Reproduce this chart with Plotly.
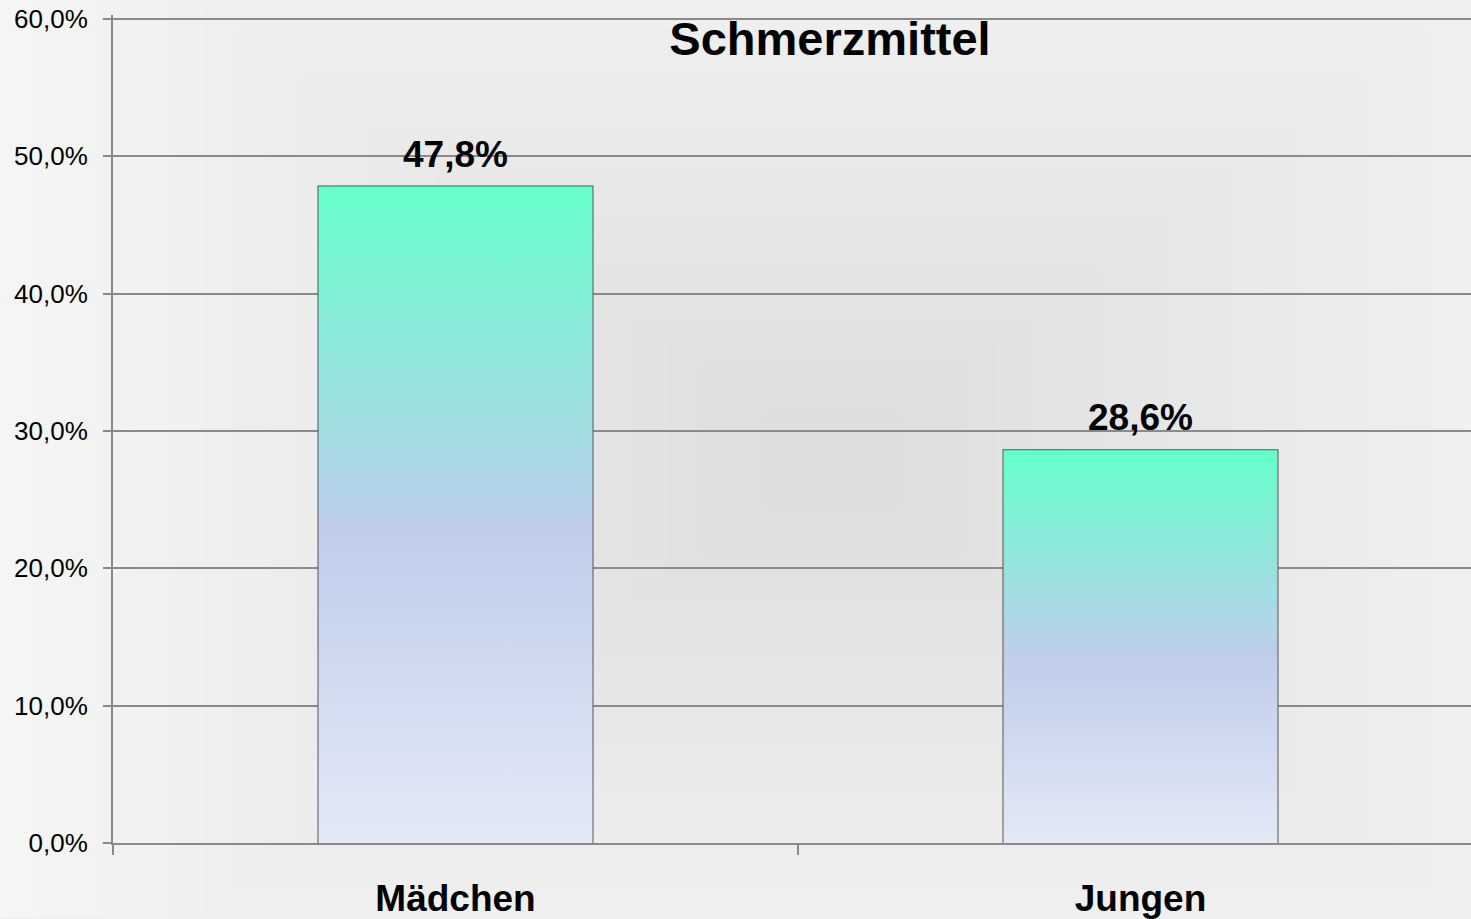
import base64
import struct
import zlib

import numpy as np
import plotly.graph_objects as go

# ---------------- data ----------------
categories = ["Mädchen", "Jungen"]
values = [47.8, 28.6]
y_tick_values = [0, 10, 20, 30, 40, 50, 60]
chart_title = "Schmerzmittel"

# ---------------- style ----------------
W, H = 1471, 919
FONT = "Liberation Sans, Arial, sans-serif"
GRID = "#8A8A8A"
BAR_LINE = "#555555"
BAR_WIDTH = 0.4
bar_scale = [
    [0.0, "#E3E9F6"],
    [0.48, "#BFCDEB"],
    [0.58, "#ACD8E6"],
    [1.0, "#66FFCC"],
]


def background_png(w, h):
    """Soft rectangular 'path' gradient: darker centre, lighter edges."""
    yy, xx = np.mgrid[0:h, 0:w]
    cx, cy = 832, 460
    d = np.maximum(np.abs(xx - cx) / 830.0, np.abs(yy - cy) / 600.0)
    d = np.clip(d, 0, 1)
    val = (221 + 25 * d).astype(np.uint8)
    raw = b"".join(b"\x00" + val[r].tobytes() for r in range(h))

    def chunk(t, data):
        c = struct.pack(">I", len(data)) + t + data
        return c + struct.pack(">I", zlib.crc32(t + data) & 0xFFFFFFFF)

    png = (
        b"\x89PNG\r\n\x1a\n"
        + chunk(b"IHDR", struct.pack(">IIBBBBB", w, h, 8, 0, 0, 0, 0))
        + chunk(b"IDAT", zlib.compress(raw, 9))
        + chunk(b"IEND", b"")
    )
    return "data:image/png;base64," + base64.b64encode(png).decode()


def pct(v):
    return f"{v:.1f}%".replace(".", ",")


idx = list(range(len(categories)))
labels = [pct(v) for v in values]
y_tick_text = [pct(v) for v in y_tick_values]

ML, MR, MT, MB = 113, 0, 15, 74
plot_w = W - ML - MR
plot_h = H - MT - MB
px_per_cat = 685.0
x_range = [-0.5, -0.5 + plot_w / px_per_cat]
y_top = 60 * plot_h / 826.0  # keeps 60 % on the reference's top grid line

fig = go.Figure()

# gradient fills of the bars
for i, v in zip(idx, values):
    x0, x1 = i - BAR_WIDTH / 2, i + BAR_WIDTH / 2
    fig.add_trace(
        go.Scatter(
            x=[x0, x1, x1, x0, x0],
            y=[0, 0, v, v, 0],
            mode="lines",
            fill="toself",
            fillgradient=dict(type="vertical", colorscale=bar_scale, start=0, stop=v),
            line=dict(width=0),
            hoverinfo="skip",
            showlegend=False,
        )
    )

# bar outlines (actual bars from the data)
fig.add_trace(
    go.Bar(
        x=idx,
        y=values,
        width=BAR_WIDTH,
        marker=dict(color="rgba(0,0,0,0)", line=dict(color=BAR_LINE, width=2)),
        showlegend=False,
        hovertemplate="%{y:.1f}%<extra></extra>",
    )
)

# data labels
for i, v, t in zip(idx, values, labels):
    fig.add_annotation(
        x=i, y=v, text=f"<b>{t}</b>", showarrow=False,
        xanchor="center", yanchor="bottom", yshift=10,
        font=dict(family=FONT, size=37, color="black"),
    )

fig.update_layout(
    width=W,
    height=H,
    margin=dict(l=ML, r=MR, t=MT, b=MB, pad=0),
    paper_bgcolor="#F0F0F0",
    plot_bgcolor="rgba(0,0,0,0)",
    separators=",.",
    font=dict(family=FONT, color="black"),
    title=dict(
        text=f"<b>{chart_title}</b>",
        x=830 / W,
        xanchor="center",
        xref="container",
        y=1 - 39 / H,
        yanchor="middle",
        yref="container",
        font=dict(family=FONT, size=47, color="black"),
    ),
    images=[
        dict(
            source=background_png(W, H),
            xref="paper",
            yref="paper",
            x=-ML / plot_w,
            y=1 + MT / plot_h,
            sizex=W / plot_w,
            sizey=H / plot_h,
            xanchor="left",
            yanchor="top",
            sizing="stretch",
            layer="below",
        )
    ],
    xaxis=dict(
        range=x_range,
        tickmode="array",
        tickvals=idx,
        ticktext=[f"<b>{c}</b>" for c in categories],
        ticks="",
        tickfont=dict(family=FONT, size=37, color="black"),
        ticklabelstandoff=22,
        showgrid=False,
        zeroline=False,
        showline=True,
        linecolor=GRID,
        linewidth=2,
        minor=dict(
            tickmode="array",
            tickvals=[-0.5, 0.5, 1.5],
            ticks="outside",
            ticklen=10,
            tickwidth=2,
            tickcolor=GRID,
            showgrid=False,
        ),
        fixedrange=True,
    ),
    yaxis=dict(
        range=[0, y_top],
        tickmode="array",
        tickvals=y_tick_values,
        ticktext=y_tick_text,
        ticks="outside",
        ticklen=8,
        tickwidth=2,
        tickcolor=GRID,
        tickfont=dict(family=FONT, size=26, color="black"),
        ticklabelstandoff=10,
        showgrid=True,
        gridcolor=GRID,
        gridwidth=2,
        zeroline=False,
        showline=True,
        linecolor=GRID,
        linewidth=2,
        fixedrange=True,
    ),
)

fig.write_html(
    "out.html",
    config={"displayModeBar": False},
    post_script="document.body.style.margin='0';document.body.style.overflow='hidden';",
)
